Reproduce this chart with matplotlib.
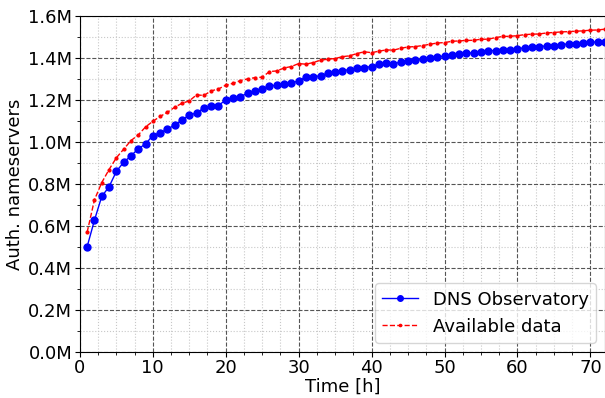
import numpy as np
import matplotlib
matplotlib.use("Agg")
import matplotlib.pyplot as plt
from matplotlib.ticker import MultipleLocator, FuncFormatter

hours = np.arange(1, 73)

# Auth. nameservers (millions)
dns_observatory = [
    0.501, 0.627, 0.740, 0.786, 0.859, 0.903, 0.933, 0.967, 0.990, 1.030,
    1.044, 1.060, 1.081, 1.102, 1.129, 1.137, 1.162, 1.173, 1.173, 1.200,
    1.211, 1.216, 1.232, 1.243, 1.254, 1.265, 1.271, 1.275, 1.279, 1.292,
    1.308, 1.311, 1.314, 1.327, 1.332, 1.340, 1.344, 1.354, 1.354, 1.359,
    1.370, 1.375, 1.371, 1.381, 1.386, 1.389, 1.394, 1.400, 1.403, 1.410,
    1.414, 1.418, 1.422, 1.425, 1.429, 1.435, 1.435, 1.438, 1.440, 1.444,
    1.448, 1.452, 1.454, 1.457, 1.459, 1.463, 1.467, 1.468, 1.471, 1.475,
    1.476, 1.478,
]
available_data = [
    0.570, 0.724, 0.806, 0.868, 0.924, 0.965, 1.006, 1.033, 1.071, 1.098,
    1.121, 1.141, 1.165, 1.184, 1.195, 1.224, 1.221, 1.243, 1.252, 1.270,
    1.279, 1.292, 1.300, 1.306, 1.308, 1.335, 1.338, 1.352, 1.359, 1.373,
    1.370, 1.378, 1.389, 1.394, 1.397, 1.406, 1.410, 1.421, 1.429, 1.425,
    1.432, 1.438, 1.437, 1.446, 1.452, 1.454, 1.459, 1.465, 1.471, 1.473,
    1.479, 1.481, 1.483, 1.484, 1.489, 1.489, 1.497, 1.502, 1.503, 1.506,
    1.511, 1.513, 1.514, 1.519, 1.521, 1.524, 1.525, 1.527, 1.529, 1.532,
    1.533, 1.537,
]

fig = plt.figure(figsize=(6.05, 3.98), dpi=100)
ax = fig.add_axes([0.132, 0.116, 0.868, 0.844])

ax.plot(hours, np.array(dns_observatory) * 1e6, "b-o", lw=1, ms=5,
        label="DNS Observatory", zorder=3)
ax.plot(hours, np.array(available_data) * 1e6, "r--o", lw=1, ms=2,
        label="Available data", zorder=3)

ax.set_xlim(0, 72)
ax.set_ylim(0, 1.6e6)
ax.xaxis.set_major_locator(MultipleLocator(10))
ax.xaxis.set_minor_locator(MultipleLocator(2.5))
ax.yaxis.set_major_locator(MultipleLocator(0.2e6))
ax.yaxis.set_minor_locator(MultipleLocator(0.1e6))
ax.yaxis.set_major_formatter(FuncFormatter(lambda v, p: f"{v / 1e6:.1f}M"))

ax.grid(which="major", ls="--", color="#555555", lw=0.8)
ax.grid(which="minor", ls=":", color="#c8c8c8", lw=0.8)
ax.tick_params(which="major", labelsize=13, pad=2)

ax.set_xlabel("Time [h]", fontsize=13, labelpad=0)
ax.set_ylabel("Auth. nameservers", fontsize=13, labelpad=3)
ax.legend(loc="lower right", fontsize=13, markerscale=0.8)

fig.savefig("out.png", dpi=100)
